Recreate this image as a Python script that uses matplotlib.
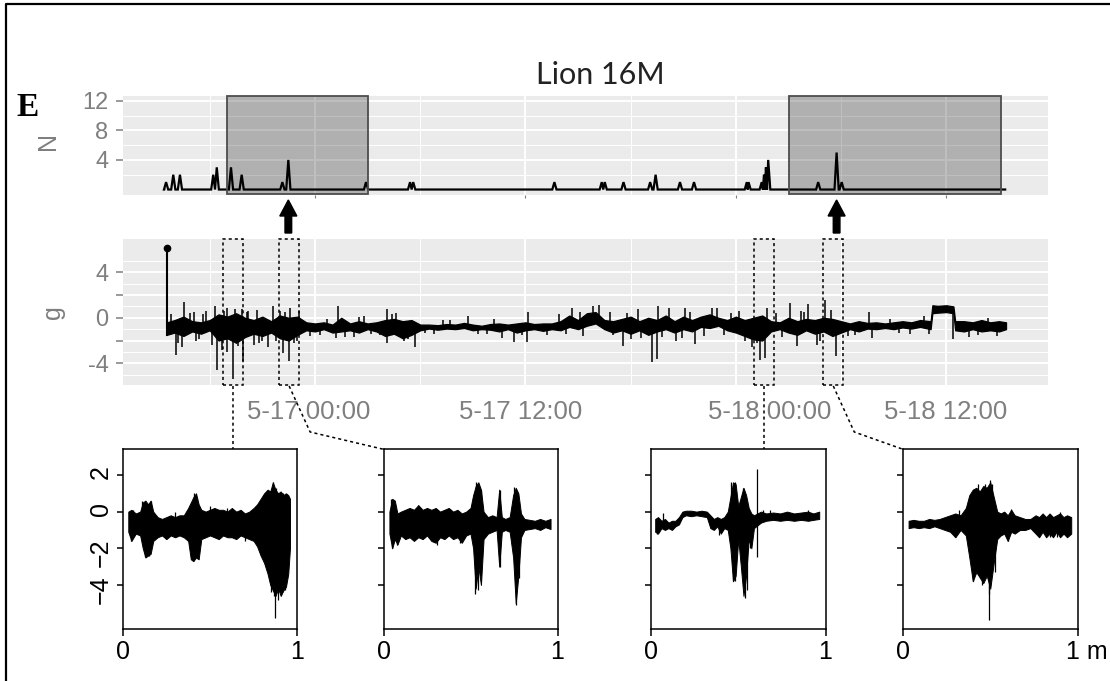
import matplotlib
matplotlib.use("Agg")
import matplotlib.pyplot as plt
import matplotlib.transforms as mtransforms
from matplotlib.lines import Line2D
from matplotlib.patches import FancyArrow, Rectangle
import numpy as np

# ---- data (time in hours relative to 5-17 00:00) ----------------------------
x_major_h = [0, 12, 24, 36]
x_minor_h = [-6, 6, 18, 30]
x_labels = ["5-17 00:00", "5-17 12:00", "5-18 00:00", "5-18 12:00"]

# bursts detected per time bin (N)
n_peak_h = [-8.49, -8.08, -7.70, -5.80, -5.60, -4.79, -4.18, -1.86, -1.52, 2.91,
            5.42, 5.60, 13.65, 16.35, 16.52, 17.59, 19.11, 19.42, 20.81, 21.61,
            24.62, 24.72, 25.47, 25.60, 25.71, 25.84, 28.69, 29.74, 30.03]
n_peak_count = [1, 2, 2, 2, 3, 3, 2, 1, 4, 1,
                1, 1, 1, 1, 1, 1, 1, 2, 1, 1,
                1, 1, 1, 2, 3, 4, 1, 5, 1]
n_start_h, n_end_h = -8.6, 39.35

# shaded periods on the N panel
period_start_h = [-5.0, 27.04]
period_end_h = [3.04, 39.1]
arrow_h = [-1.52, 29.74]

# acceleration trace (g): lower / upper envelope of the dense signal
start_h, start_g = -8.45, 6.15
main_h = [-8.45, -8.0, -7.5, -7.0, -6.5, -6.0, -5.5, -5.0, -4.5, -4.0,
          -3.5, -3.0, -2.5, -2.0, -1.5, -1.0, -0.5, 0.0, 0.5, 1.0,
          1.5, 2.0, 2.5, 3.0, 3.5, 4.0, 4.5, 5.0, 5.5, 6.0,
          6.5, 7.0, 7.5, 8.0, 8.5, 9.0, 9.5, 10.0, 10.5, 11.0,
          11.5, 12.0, 12.5, 13.0, 13.5, 14.0, 14.5, 15.0, 15.5, 16.0,
          16.5, 17.0, 17.5, 18.0, 18.5, 19.0, 19.5, 20.0, 20.5, 21.0,
          21.5, 22.0, 22.5, 23.0, 23.5, 24.0, 24.5, 25.0, 25.5, 26.0,
          26.5, 27.0, 27.5, 28.0, 28.5, 29.0, 29.5, 30.0, 30.5, 31.0,
          31.5, 32.0, 32.5, 33.0, 33.5, 34.0, 34.5, 35.1, 35.2, 35.5,
          36.0, 36.4, 36.5, 37.0, 37.5, 38.0, 38.5, 39.0, 39.4]
main_lo = [-1.5, -1.3, -1.6, -1.2, -1.4, -1.1, -2.0, -1.8, -2.2, -1.7,
           -1.4, -1.6, -1.3, -1.8, -2.0, -1.5, -1.1, -1.2, -1.0, -1.3,
           -1.2, -1.1, -1.3, -1.0, -1.2, -1.6, -1.4, -1.8, -1.5, -1.1,
           -0.95, -1.05, -0.95, -1.0, -0.9, -1.1, -1.0, -1.05, -1.2, -1.0,
           -1.3, -1.1, -1.0, -1.15, -1.0, -1.1, -0.8, -1.0, -0.7, -0.5,
           -1.0, -1.3, -1.1, -1.4, -1.1, -1.5, -1.2, -1.0, -1.3, -1.0,
           -1.2, -0.8, -0.9, -0.7, -1.1, -1.3, -1.6, -1.9, -2.0, -1.2,
           -1.0, -1.3, -1.5, -1.1, -1.4, -1.2, -1.6, -1.3, -1.0, -1.2,
           -0.95, -1.0, -0.9, -1.0, -0.85, -0.95, -0.8, -1.0, 0.4, 0.45,
           0.5, 0.4, -1.1, -1.2, -1.0, -1.2, -1.1, -1.2, -1.0]
main_hi = [-0.4, -0.2, 0.1, -0.3, -0.4, -0.2, 0.3, 0.1, 0.4, 0.0,
           -0.2, 0.1, -0.3, 0.2, 0.0, 0.1, -0.4, -0.5, -0.4, -0.6,
           0.0, -0.5, -0.3, -0.5, -0.4, -0.2, -0.1, -0.3, -0.2, -0.6,
           -0.6, -0.65, -0.55, -0.6, -0.45, -0.6, -0.7, -0.55, -0.5, -0.6,
           -0.5, -0.4, -0.55, -0.5, -0.5, -0.3, 0.2, -0.2, 0.4, 0.5,
           -0.2, -0.3, -0.1, 0.1, -0.3, 0.0, -0.2, 0.2, -0.3, 0.1,
           -0.2, 0.1, 0.3, 0.0, -0.2, 0.1, -0.2, 0.0, 0.2, -0.3,
           -0.4, 0.0, -0.3, -0.1, -0.2, 0.0, -0.1, -0.3, -0.5, -0.3,
           -0.45, -0.4, -0.5, -0.4, -0.3, -0.4, -0.2, -0.3, 1.1, 1.05,
           1.1, 1.0, -0.3, -0.3, -0.4, -0.2, -0.4, -0.3, -0.4]
main_spike_h = [-7.92, -7.6, -7.47, -6.8, -6.2, -5.7, -5.57, -5.3, -5.0, -5.0,
                -4.66, -4.56, -4.18, -4.12, -3.5, -3.3, -3.0, -2.7, -2.39, -2.0,
                -1.84, -1.47, -1.43, -1.2, -0.9, 1.2, 1.31, 4.09, 4.12, 5.7,
                8.72, 10.64, 11.35, 12.07, 12.14, 14.63, 15.85, 16.2, 17.0, 17.56,
                18.4, 18.6, 19.2, 19.5, 19.56, 20.2, 20.6, 21.1, 21.66, 22.63,
                22.9, 24.9, 25.4, 25.66, 25.8, 27.1, 27.5, 28.1, 28.6, 29.1,
                29.7, 31.6, 31.75, 36.4,
                -8.2, -7.1, -6.6, -3.8, -0.3, 0.7, 2.2, 2.8, 3.7, 4.6,
                5.3, 6.8, 7.7, 9.3, 10.2, 13.2, 13.9, 15.3, 18.0, 20.9,
                23.3, 24.2, 26.6, 27.9, 30.4, 32.8, 33.9, 34.7, 37.3, 38.4,
                -7.8, -6.9, -6.4, -5.9, -5.2, -4.4, -3.9, -3.2, -2.2, -1.7,
                -1.0, 0.3, 1.7, 2.5, 3.2, 4.4, 5.1, 6.3, 7.3, 9.8,
                11.8, 14.3, 15.1, 16.8, 17.8, 19.8, 21.4, 22.2, 23.7, 24.5,
                25.2, 26.3, 27.7, 28.8, 29.4, 30.8, 33.3, 35.0, 37.8, 38.9]
main_spike_g = [-3.3, -2.6, 1.4, -2.0, 0.6, 1.0, -4.6, -2.8, 0.9, -3.0,
                -5.4, 0.75, 0.8, -3.8, -2.4, 0.7, -2.0, -2.6, 1.0, 0.6,
                -3.1, -3.8, 0.85, -2.2, 0.6, -1.8, 1.0, 0.75, -2.2, -2.6,
                0.2, -1.8, -2.1, -2.1, 0.5, 0.9, 1.0, 1.1, -1.5, -2.5,
                0.8, -1.8, -3.9, -3.6, 1.0, 0.9, -2.0, 0.9, -2.3, 0.9,
                0.9, -2.6, -3.7, -3.5, 0.9, 1.3, -2.5, 1.2, -2.4, 1.6,
                -3.4, 0.5, -1.8, -1.9,
                0.3, 0.4, -1.9, 0.6, -1.6, -0.1, -1.7, 0.2, -1.5, 0.4,
                -1.9, -1.4, -0.2, -1.4, -0.1, -1.5, 0.3, -1.6, -1.9, -1.8,
                -1.5, 0.6, -1.7, 0.5, -1.6, -0.1, -1.4, 0.2, -1.7, 0.0,
                -2.2, 0.5, 0.3, -2.4, 0.6, -2.5, 0.5, -2.2, -2.0, 0.5,
                -2.0, -1.5, -1.7, 0.1, -1.4, 0.3, -2.0, -1.3, -0.2, -1.4,
                -1.5, -1.4, 0.5, 0.5, 0.4, -1.7, 0.5, -1.6, 0.4, -2.0,
                -2.2, 0.4, 0.6, -2.0, 0.7, -1.5, -1.3, -1.4, -1.5, -1.6]

# zoomed windows (hours) and their traces (x as fraction of the window)
win_start_h = [-5.23, -2.04, 25.04, 28.98]
win_end_h = [-4.09, -0.91, 26.17, 30.12]

z1_x = [0.032, 0.05, 0.075, 0.10, 0.115, 0.13, 0.145, 0.16, 0.175, 0.20,
        0.225, 0.25, 0.275, 0.30, 0.325, 0.35, 0.375, 0.39, 0.405, 0.42,
        0.435, 0.45, 0.475, 0.50, 0.525, 0.55, 0.575, 0.60, 0.625, 0.65,
        0.675, 0.70, 0.725, 0.75, 0.77, 0.79, 0.81, 0.83, 0.845, 0.86,
        0.875, 0.89, 0.905, 0.92, 0.935, 0.948, 0.958]
z1_lo = [-1.1, -1.6, -1.2, -1.3, -2.0, -2.5, -2.4, -2.3, -1.6, -1.4,
         -1.3, -1.5, -1.3, -1.4, -1.3, -1.4, -1.6, -2.6, -2.7, -2.5,
         -2.6, -1.5, -1.4, -1.3, -1.4, -1.5, -1.3, -1.4, -1.4, -1.5,
         -1.3, -1.4, -1.5, -1.6, -1.9, -2.4, -2.8, -3.4, -4.0, -4.3,
         -4.6, -4.2, -4.6, -4.3, -4.1, -3.4, -2.0]
z1_hi = [0.0, 0.1, -0.1, 0.0, 0.5, 0.6, 0.4, 0.6, 0.0, -0.3,
         -0.4, -0.3, -0.2, -0.3, -0.2, -0.2, 0.2, 0.5, 0.8, 1.0,
         0.4, 0.1, 0.0, 0.1, 0.2, 0.1, 0.1, 0.0, 0.2, 0.0,
         0.1, -0.1, 0.0, 0.2, 0.4, 0.7, 1.0, 1.2, 1.1, 1.6,
         1.2, 1.0, 1.1, 0.9, 1.0, 0.9, 0.7]
z1_spike_x = [0.05, 0.06, 0.11, 0.13, 0.15, 0.16, 0.25, 0.30, 0.40, 0.41, 0.43, 0.50,
              0.60, 0.70, 0.85, 0.86, 0.865, 0.87, 0.88, 0.89, 0.91, 0.92, 0.93]
z1_spike_g = [-1.6, 0.1, 0.6, -2.5, -2.4, 0.6, -1.5, 0.0, -2.7, 1.0, -2.6, 0.3,
              0.2, -1.6, -4.4, 1.6, -4.6, -5.8, 1.3, -4.8, -4.4, 1.0, -4.3]

z2_x = [0.034, 0.05, 0.065, 0.08, 0.10, 0.125, 0.15, 0.175, 0.20, 0.225,
        0.25, 0.275, 0.30, 0.325, 0.35, 0.375, 0.40, 0.425, 0.45, 0.475,
        0.50, 0.515, 0.53, 0.545, 0.56, 0.575, 0.60, 0.625, 0.65, 0.665,
        0.68, 0.70, 0.725, 0.745, 0.76, 0.775, 0.79, 0.81, 0.84, 0.87,
        0.90, 0.93, 0.96]
z2_lo = [-1.2, -2.0, -1.5, -1.8, -1.3, -1.5, -1.4, -1.6, -1.4, -1.5,
         -1.3, -1.6, -1.7, -1.4, -1.5, -1.3, -1.5, -1.4, -1.7, -1.3,
         -1.2, -2.0, -4.2, -3.0, -4.0, -1.5, -1.2, -1.1, -1.0, -3.0,
         -1.1, -1.0, -1.1, -2.5, -5.0, -3.5, -1.4, -1.0, -0.95, -0.9,
         -1.0, -0.85, -0.95]
z2_hi = [0.0, 0.7, 0.6, -0.1, 0.0, 0.1, 0.2, 0.1, 0.35, 0.1,
         0.2, 0.1, 0.2, 0.0, 0.1, 0.2, 0.0, 0.1, -0.1, 0.0,
         0.2, 0.9, 1.4, 1.6, 1.2, 0.0, -0.3, -0.2, -0.3, 1.2,
         -0.3, -0.4, -0.3, 0.9, 1.3, 1.0, -0.1, -0.4, -0.45, -0.5,
         -0.4, -0.5, -0.4]
z2_spike_x = [0.045, 0.05, 0.055, 0.08, 0.2, 0.31, 0.44, 0.525, 0.53, 0.545, 0.55,
              0.56, 0.67, 0.672, 0.75, 0.76, 0.77, 0.78]
z2_spike_g = [0.7, -2.0, 0.5, -1.8, 0.35, -1.8, -1.7, -4.5, 1.6, -4.3, 1.4,
              1.2, 1.2, -3.0, 1.35, -5.1, 1.0, -3.6]

z3_x = [0.024, 0.04, 0.06, 0.08, 0.10, 0.12, 0.14, 0.16, 0.18, 0.20,
        0.23, 0.26, 0.29, 0.32, 0.34, 0.36, 0.38, 0.40, 0.42, 0.44,
        0.455, 0.47, 0.485, 0.50, 0.515, 0.53, 0.545, 0.56, 0.575, 0.59,
        0.63, 0.66, 0.70, 0.74, 0.78, 0.82, 0.86, 0.90, 0.93, 0.964]
z3_lo = [-1.1, -1.2, -0.9, -1.0, -0.9, -1.0, -0.8, -0.7, -0.3, -0.2,
         -0.25, -0.2, -0.25, -0.3, -0.9, -1.0, -0.8, -1.2, -0.9, -1.0,
         -2.0, -3.8, -3.5, -1.5, -3.0, -4.6, -3.5, -1.5, -2.0, -0.9,
         -0.6, -0.5, -0.45, -0.5, -0.45, -0.5, -0.45, -0.5, -0.45, -0.4]
z3_hi = [-0.4, -0.3, -0.5, -0.4, -0.6, -0.5, -0.5, -0.3, 0.0, 0.05,
         0.05, 0.0, 0.05, 0.0, -0.2, -0.4, -0.3, -0.4, -0.3, 0.0,
         0.8, 1.6, 1.5, 0.3, 0.8, 1.3, 0.9, 0.2, -0.1, -0.2,
         0.0, -0.1, -0.05, -0.1, 0.0, -0.1, -0.05, 0.0, -0.1, 0.0]
z3_spike_x = [0.035, 0.07, 0.39, 0.46, 0.47, 0.48, 0.48, 0.53, 0.54, 0.55, 0.57,
              0.61, 0.61, 0.64, 0.68, 0.9]
z3_spike_g = [-1.2, -0.1, -1.3, 1.6, -3.8, 1.6, -3.8, 1.3, -4.7, -4.3, -2.0,
              2.3, -2.5, 0.1, 0.1, 0.1]

z4_x = [0.032, 0.06, 0.09, 0.12, 0.15, 0.18, 0.21, 0.24, 0.27, 0.30,
        0.33, 0.36, 0.38, 0.40, 0.42, 0.44, 0.46, 0.48, 0.50, 0.52,
        0.54, 0.56, 0.58, 0.60, 0.62, 0.64, 0.67, 0.70, 0.73, 0.76,
        0.78, 0.80, 0.82, 0.84, 0.86, 0.88, 0.90, 0.92, 0.94, 0.964]
z4_lo = [-0.9, -0.85, -0.9, -0.85, -0.9, -0.8, -0.9, -1.0, -1.1, -1.4,
         -1.0, -1.3, -2.5, -3.8, -3.3, -3.6, -3.9, -3.5, -4.2, -2.8,
         -1.5, -1.3, -1.2, -1.6, -1.1, -1.2, -1.0, -1.0, -0.9, -1.2,
         -1.4, -1.1, -1.4, -1.2, -1.4, -1.1, -1.4, -1.2, -1.4, -1.2]
z4_hi = [-0.5, -0.45, -0.5, -0.5, -0.4, -0.45, -0.4, -0.3, -0.2, -0.1,
         -0.2, 0.2, 0.9, 1.2, 1.3, 1.1, 1.4, 1.3, 1.6, 0.8,
         0.0, -0.1, 0.0, -0.2, 0.1, -0.2, -0.3, -0.4, -0.4, -0.2,
         -0.3, -0.1, -0.3, -0.1, -0.3, -0.2, -0.1, -0.3, -0.2, -0.3]
z4_spike_x = [0.30, 0.32, 0.40, 0.43, 0.45, 0.47, 0.49, 0.495, 0.50, 0.51, 0.53,
              0.60, 0.62, 0.84, 0.88, 0.90]
z4_spike_g = [-1.4, 0.1, -3.8, 1.5, -4.0, 1.5, -4.5, -5.9, 1.7, 1.5, -3.3,
              -1.6, 0.15, -1.4, -1.4, 0.0]

# ---- layout -----------------------------------------------------------------
W, H = 1110, 681
GRAY = "#7f7f7f"
plt.rcParams["font.family"] = ["Liberation Sans", "DejaVu Sans"]
fig = plt.figure(figsize=(W / 100, H / 100), dpi=100)


def px_axes(x0, y0, x1, y1):
    """Axes from a pixel box measured from the top-left corner."""
    return fig.add_axes([x0 / W, 1 - y1 / H, (x1 - x0) / W, (y1 - y0) / H])


def gg_panel(ax, ylim, ymajor, ylabels, yminor):
    ax.set_facecolor("#ebebeb")
    for s in ax.spines.values():
        s.set_visible(False)
    ax.set_xlim(-10.975, 41.81)
    ax.set_ylim(*ylim)
    ax.set_xticks(x_major_h)
    ax.set_xticks(x_minor_h, minor=True)
    ax.set_yticks(ymajor, ylabels)
    ax.set_yticks(yminor, minor=True)
    ax.grid(which="major", color="white", lw=1.4)
    ax.grid(which="minor", color="white", lw=0.7)
    ax.set_axisbelow(True)
    ax.tick_params(axis="y", which="major", length=5, width=1.1, color=GRAY,
                   labelcolor=GRAY, labelsize=17, pad=5)
    ax.tick_params(which="minor", length=0)


def envelope(ax, x, lo, hi, sx, sg, lw):
    mid = (np.array(lo) + np.array(hi)) / 2
    ax.fill_between(x, lo, hi, color="k", lw=lw, edgecolor="k")
    ax.vlines(sx, np.interp(sx, x, mid), sg, color="k", lw=lw + 0.2)


# N panel
ax_n = px_axes(122.5, 96, 1048.3, 195)
gg_panel(ax_n, (-0.74, 12.64), [4, 8, 12], ["4", "8", "12"], [2, 6, 10])
ax_n.tick_params(axis="x", which="major", length=2, color=GRAY, labelbottom=False)
ax_n.set_ylabel("N", color=GRAY, fontsize=18)
ax_n.yaxis.set_label_coords(-0.068, 0.55)

half = 0.12
nx, ny = [n_start_h, n_peak_h[0] - half], [0, 0]
for i, (t, n) in enumerate(zip(n_peak_h, n_peak_count)):
    nx.append(t)
    ny.append(n)
    if i + 1 < len(n_peak_h):
        nxt = n_peak_h[i + 1]
        if nxt - t >= 2 * half:
            nx += [t + half, nxt - half]
            ny += [0, 0]
        else:
            nx.append((t + nxt) / 2)
            ny.append(0)
nx += [n_peak_h[-1] + half, n_end_h]
ny += [0, 0]
ax_n.plot(nx, ny, color="k", lw=1.6, solid_joinstyle="miter")

for s, e in zip(period_start_h, period_end_h):
    ax_n.add_patch(Rectangle((s, -0.65), e - s, 13.25, facecolor=(0, 0, 0, 0.25),
                             edgecolor="#4d4d4d", lw=1.3, clip_on=False, zorder=3))

blend = mtransforms.blended_transform_factory(ax_n.transData, fig.transFigure)
for t in arrow_h:
    ax_n.add_patch(FancyArrow(t, 1 - 233 / H, 0, 33 / H, width=0.38, head_width=0.97,
                              head_length=16 / H, length_includes_head=True,
                              color="k", transform=blend, clip_on=False))

# acceleration panel
ax_g = px_axes(122.5, 239.3, 1048.3, 385)
gg_panel(ax_g, (-5.91, 6.90), [-4, -2, 0, 2, 4], ["-4", "", "0", "", "4"],
         [-5, -3, -1, 1, 3, 5])
ax_g.set_xticks(x_major_h, x_labels)
ax_g.tick_params(axis="x", which="major", length=0, labelcolor=GRAY,
                 labelsize=18.5, pad=11)
for lab, dx in zip(ax_g.get_xticklabels(), [-6, -5, 34, -1]):
    lab.set_transform(lab.get_transform() +
                      mtransforms.ScaledTranslation(dx / 100, 0, fig.dpi_scale_trans))
ax_g.set_ylabel("g", color=GRAY, fontsize=18)
ax_g.yaxis.set_label_coords(-0.062, 0.5)

ax_g.plot([start_h, start_h], [start_g, main_lo[0]], color="k", lw=1.5)
ax_g.plot([start_h], [start_g], "o", color="k", ms=4.5)
envelope(ax_g, main_h, main_lo, main_hi, main_spike_h, main_spike_g, 0.9)

for s, e in zip(win_start_h, win_end_h):
    ax_g.add_patch(Rectangle((s, -5.91), e - s, 12.81, fill=False, edgecolor="k",
                             lw=1.1, ls=(0, (2, 2)), clip_on=False, zorder=4))

# zoomed windows
inset_px = [(122.7, 297.3), (383.5, 557.5), (651, 825.5), (903, 1077.5)]
inset_top, inset_bottom = 449.3, 629.3
zoom_data = [(z1_x, z1_lo, z1_hi, z1_spike_x, z1_spike_g),
             (z2_x, z2_lo, z2_hi, z2_spike_x, z2_spike_g),
             (z3_x, z3_lo, z3_hi, z3_spike_x, z3_spike_g),
             (z4_x, z4_lo, z4_hi, z4_spike_x, z4_spike_g)]
bent = [False, True, False, True]

fig.canvas.draw()
for i, ((x0, x1), (zx, zlo, zhi, sx, sg)) in enumerate(zip(inset_px, zoom_data)):
    ax = px_axes(x0, inset_top, x1, inset_bottom)
    ax.set_xlim(0, 1)
    ax.set_ylim(-6.42, 3.40)
    for s in ax.spines.values():
        s.set_linewidth(1.1)
    ax.set_xticks([0, 1], ["0", "1 m" if i == 3 else "1"])
    ax.set_yticks([-4, -2, 0, 2])
    ax.tick_params(axis="x", length=5, width=1.1, labelsize=18, pad=3)
    ax.tick_params(axis="y", length=4, width=1.1, labelsize=18, pad=3,
                   labelrotation=90, labelleft=(i == 0))
    if i == 3:
        lab = ax.get_xticklabels()[1]
        lab.set_transform(lab.get_transform() +
                          mtransforms.ScaledTranslation(9 / 100, 0, fig.dpi_scale_trans))
    envelope(ax, zx, zlo, zhi, sx, sg, 0.7)

    # dotted connector from the window in the g panel down to this axes
    xc = ax_g.transData.transform(((win_start_h[i] + win_end_h[i]) / 2, 0))[0]
    if bent[i]:
        xs, ys = [xc, xc + 21, x0], [386, 432, inset_top]
    else:
        xs, ys = [xc, xc], [386, inset_top]
    fig.add_artist(Line2D(np.array(xs) / W, 1 - np.array(ys) / H, color="k", lw=1.1,
                          ls=(0, (2, 2)), transform=fig.transFigure))

# title, panel letter and frame
fig.text(600 / W, 1 - 84 / H, "Lion 16M", ha="center", va="baseline", fontsize=22,
         family="Lato", color="#222222")
fig.text(28 / W, 1 - 107 / H, "E", ha="center", va="center", fontsize=24,
         family="Liberation Serif", weight="bold")
fig.add_artist(Line2D([6 / W, 6 / W, 1], [0, 1 - 4 / H, 1 - 4 / H], color="k", lw=1.6,
                      transform=fig.transFigure))

fig.savefig("out.png", dpi=100)
